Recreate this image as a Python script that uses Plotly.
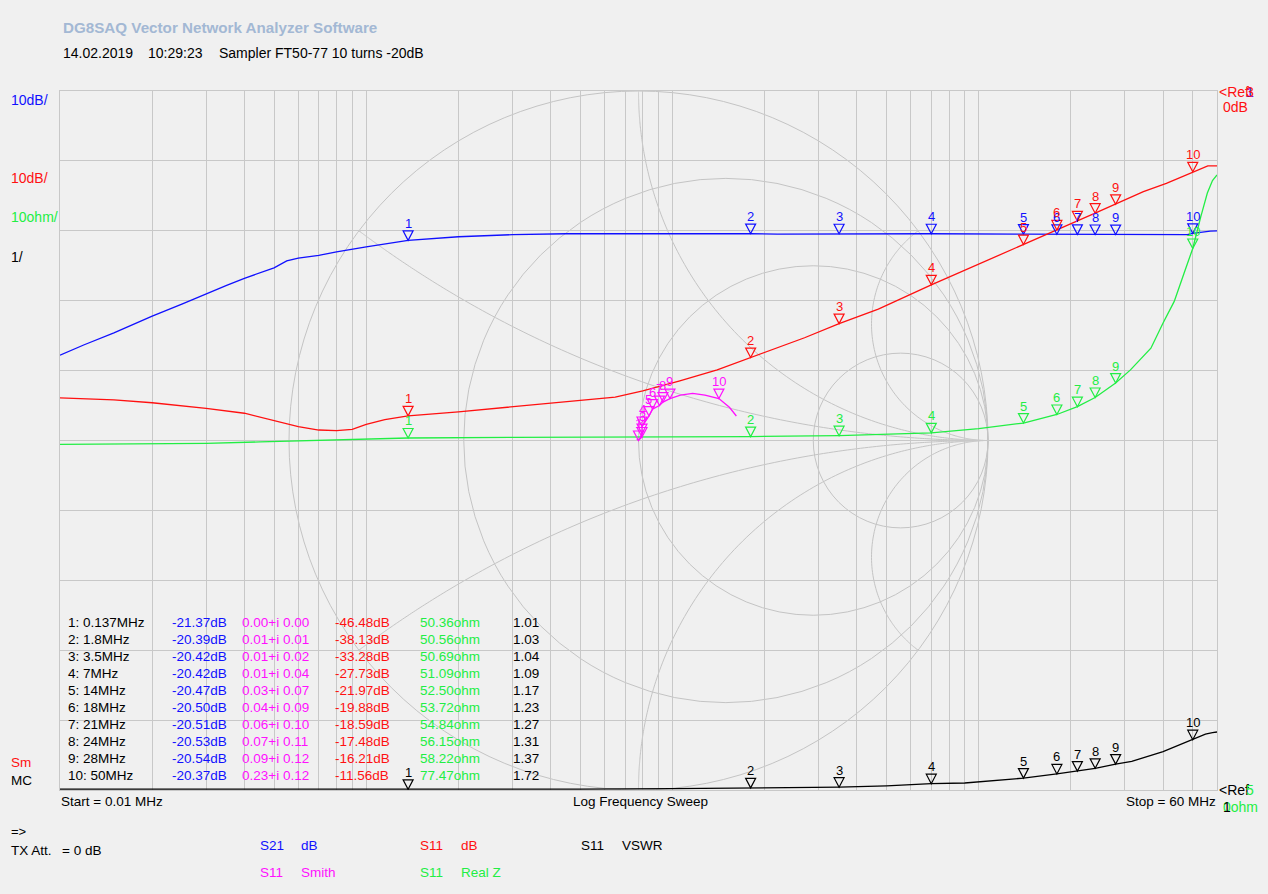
import numpy as np
import plotly.graph_objects as go

# ---------------- sweep data (frequency in MHz) ----------------
s21_freq = [0.01, 0.012, 0.015, 0.02, 0.025, 0.03, 0.035, 0.04, 0.045, 0.05, 0.055,
            0.06, 0.07, 0.08, 0.1, 0.137, 0.2, 0.3, 0.45, 0.7, 1.0, 1.8, 2.2, 3.5,
            7, 14, 18, 21, 24, 28, 35, 42, 48, 50, 53, 57, 60]
s21_db = [-37.8, -36.3, -34.6, -32.2, -30.5, -29.0, -27.8, -26.8, -26.0, -25.3, -24.3,
          -23.9, -23.5, -23.0, -22.3, -21.37, -20.85, -20.55, -20.42, -20.40, -20.38, -20.39, -20.48, -20.42,
          -20.42, -20.47, -20.50, -20.51, -20.53, -20.54, -20.55, -20.55, -20.55, -20.37, -20.2, -20.05, -20.0]

s11_freq = [0.01, 0.015, 0.02, 0.03, 0.04, 0.05, 0.06, 0.07, 0.08, 0.09, 0.1, 0.115, 0.137,
            0.2, 0.35, 0.5, 0.65, 0.8, 1.05, 1.4, 1.8, 2.7, 3.5, 4.7, 7, 10, 11.7, 14,
            18, 21, 24, 28, 34.5, 41, 50, 54, 56, 60]
s11_db = [-43.9, -44.2, -44.6, -45.4, -46.1, -47.1, -48.0, -48.5, -48.6, -48.4, -47.7, -47.0, -46.48,
          -45.9, -44.9, -44.3, -43.8, -42.9, -41.5, -39.9, -38.13, -35.3, -33.28, -31.2, -27.73, -24.8, -23.4, -21.97,
          -19.88, -18.59, -17.48, -16.21, -14.4, -13.2, -11.56, -10.9, -10.7, -10.7]

realz_freq = [0.01, 0.03, 0.045, 0.07, 0.137, 0.3, 1.0, 1.8, 3.5, 7, 10, 14, 18, 21, 24, 28,
              31.3, 36.5, 40, 43.5, 46.8, 50, 53.1, 55.8, 58, 60]
realz_ohm = [49.45, 49.6, 49.8, 50.0, 50.36, 50.45, 50.5, 50.56, 50.69, 51.09, 51.7, 52.50, 53.72, 54.84, 56.15, 58.22,
             60.1, 63.2, 66.8, 69.9, 73.9, 77.47, 82.0, 85.4, 87.2, 88.0]

vswr_freq = [0.01, 0.045, 0.05, 0.12, 0.137, 0.5, 1.0, 1.8, 2.5, 3.5, 5, 7, 9, 11, 14, 18, 21, 24, 28,
             31.6, 40, 50, 55, 58, 60]
vswr_val = [1.012, 1.012, 1.006, 1.006, 1.01, 1.012, 1.02, 1.03, 1.03, 1.04, 1.06, 1.09, 1.10, 1.13, 1.17, 1.23,
            1.27, 1.31, 1.37, 1.41, 1.55, 1.72, 1.80, 1.82, 1.83]

smith_freq = [0.01, 0.137, 1.8, 3.5, 7, 14, 18, 21, 24, 28, 33, 38, 44, 50, 55, 60]
smith_re = [-0.005, 0.00, 0.01, 0.01, 0.01, 0.03, 0.04, 0.06, 0.07, 0.09, 0.12, 0.155, 0.19, 0.23, 0.26, 0.28]
smith_im = [0.004, 0.00, 0.01, 0.02, 0.04, 0.07, 0.09, 0.10, 0.11, 0.12, 0.13, 0.135, 0.13, 0.12, 0.095, 0.07]

# ---------------- marker readouts ----------------
marker_freq = [0.137, 1.8, 3.5, 7, 14, 18, 21, 24, 28, 50]
marker_s21 = [-21.37, -20.39, -20.42, -20.42, -20.47, -20.50, -20.51, -20.53, -20.54, -20.37]
marker_re = [0.00, 0.01, 0.01, 0.01, 0.03, 0.04, 0.06, 0.07, 0.09, 0.23]
marker_im = [0.00, 0.01, 0.02, 0.04, 0.07, 0.09, 0.10, 0.11, 0.12, 0.12]
marker_s11 = [-46.48, -38.13, -33.28, -27.73, -21.97, -19.88, -18.59, -17.48, -16.21, -11.56]
marker_realz = [50.36, 50.56, 50.69, 51.09, 52.50, 53.72, 54.84, 56.15, 58.22, 77.47]
marker_vswr = [1.01, 1.03, 1.04, 1.09, 1.17, 1.23, 1.27, 1.31, 1.37, 1.72]

F_START, F_STOP = 0.01, 60.0

# ---------------- page geometry ----------------
W, H = 1268, 894
L, R, T, B = 60, 1217, 91, 790
BG = "#f0f0f0"
GRID = "#c8c8c8"
SMITH = "#c4c4c4"
BLUE, RED, GREEN, MAG, BLK = "#1010ff", "#ff1010", "#22ee44", "#ff10ff", "#000000"
FONT = "Liberation Sans"

fig = go.Figure()

# trace curves
fig.add_trace(go.Scatter(x=s21_freq, y=s21_db, mode="lines", line=dict(color=BLUE, width=1.3),
                         xaxis="x", yaxis="y", hoverinfo="skip"))
fig.add_trace(go.Scatter(x=s11_freq, y=s11_db, mode="lines", line=dict(color=RED, width=1.3),
                         xaxis="x", yaxis="y", hoverinfo="skip"))
fig.add_trace(go.Scatter(x=realz_freq, y=realz_ohm, mode="lines", line=dict(color=GREEN, width=1.3),
                         xaxis="x", yaxis="y3", hoverinfo="skip"))
fig.add_trace(go.Scatter(x=vswr_freq, y=vswr_val, mode="lines", line=dict(color=BLK, width=1.3),
                         xaxis="x", yaxis="y4", hoverinfo="skip"))
fig.add_trace(go.Scatter(x=smith_re, y=smith_im, mode="lines", line=dict(color=MAG, width=1.3),
                         xaxis="x2", yaxis="y2", hoverinfo="skip"))

shapes = []

# Smith chart grid: unit circle, constant-resistance circles and reactance arcs
shapes.append(dict(type="circle", xref="x2", yref="y2", x0=-1, x1=1, y0=-1, y1=1,
                   line=dict(color=SMITH, width=1), layer="below"))
for r in (1 / 3, 1, 3):
    c, rad = r / (1 + r), 1 / (1 + r)
    shapes.append(dict(type="circle", xref="x2", yref="y2", x0=c - rad, x1=c + rad, y0=-rad, y1=rad,
                       line=dict(color=SMITH, width=1), layer="below"))
rr = np.concatenate([[0.0], np.logspace(-3, 4, 400)])
for xr in (1 / 3, 1, 3, -1 / 3, -1, -3):
    g = (rr + 1j * xr - 1) / (rr + 1j * xr + 1)
    path = "M " + " L ".join(f"{p.real:.5f},{p.imag:.5f}" for p in g)
    shapes.append(dict(type="path", xref="x2", yref="y2", path=path,
                       line=dict(color=SMITH, width=1), layer="below"))

# marker triangles (tip on the trace) and their numbers
TRI = "M-5,9.5 L5,9.5 L0,0 Z"
annotations = []


def add_marker(xref, yref, xa, ya, xlab, color, label):
    shapes.append(dict(type="path", xref=xref, yref=yref, xsizemode="pixel", ysizemode="pixel",
                       xanchor=xa, yanchor=ya, path=TRI, line=dict(color=color, width=1.2),
                       fillcolor="rgba(0,0,0,0)", layer="above"))
    annotations.append(dict(xref=xref, yref=yref, x=xlab, y=ya, text=label, showarrow=False,
                            yshift=17, xanchor="center", yanchor="middle", borderpad=0,
                            font=dict(family=FONT, size=13, color=color)))


for i, f in enumerate(marker_freq):
    lab = str(i + 1)
    lf = float(np.log10(f))
    add_marker("x", "y", f, marker_s21[i], lf, BLUE, lab)
    add_marker("x", "y", f, marker_s11[i], lf, RED, lab)
    add_marker("x", "y3", f, marker_realz[i], lf, GREEN, lab)
    add_marker("x", "y4", f, marker_vswr[i], lf, BLK, lab)
    add_marker("x2", "y2", marker_re[i], marker_im[i], marker_re[i], MAG, lab)


def px_x(px):
    return (px - L) / (R - L)


def px_y(py):
    return (B - py) / (B - T)


def text(px, py, s, color=BLK, size=13.5, anchor="left", bold=False):
    if bold:
        s = f"<b>{s}</b>"
    annotations.append(dict(xref="paper", yref="paper", x=px_x(px), y=px_y(py), text=s,
                            showarrow=False, xanchor=anchor, yanchor="middle", borderpad=0,
                            font=dict(family=FONT, size=size, color=color)))


# header
text(62, 27, "DG8SAQ Vector Network Analyzer Software", "#a3b8d4", 15.2, bold=True)
text(62, 53, "14.02.2019", size=14)
text(147, 53, "10:29:23", size=14)
text(218, 53, "Sampler FT50-77 10 turns -20dB", size=14)

# scale labels on the left
text(10, 100, "10dB/", BLUE, 14)
text(10, 178, "10dB/", RED, 14)
text(10, 217, "10ohm/", GREEN, 14)
text(10, 257, "1/", BLK, 14)
text(10, 762, "Sm", RED, 13.5)
text(10, 780, "MC", BLK, 13.5)

# reference labels on the right
text(1218, 92, "&lt;Ref", RED, 14)
text(1245, 92, "1", BLUE, 14)
text(1245, 92, "3", RED, 14)
text(1222, 107, "0dB", RED, 14)
text(1218, 790, "&lt;Ref", BLK, 14)
text(1245, 790, "5", GREEN, 14)
text(1222, 807, "0ohm", GREEN, 14)
text(1222, 807, "1", BLK, 14)

# sweep info
text(60, 802, "Start = 0.01 MHz", BLK, 13.5)
text(640, 802, "Log Frequency Sweep", BLK, 13.5, anchor="center")
text(1217, 802, "Stop = 60 MHz", BLK, 13.5, anchor="right")
text(10, 831, "=&gt;", BLK, 13)
text(10, 850, "TX Att.", BLK, 13.5)
text(61, 850, "= 0 dB", BLK, 13.5)

# trace legend
text(259, 845, "S21", BLUE, 13.5)
text(300, 845, "dB", BLUE, 13.5)
text(419, 845, "S11", RED, 13.5)
text(460, 845, "dB", RED, 13.5)
text(580, 845, "S11", BLK, 13.5)
text(621, 845, "VSWR", BLK, 13.5)
text(259, 872, "S11", MAG, 13.5)
text(300, 872, "Smith", MAG, 13.5)
text(419, 872, "S11", GREEN, 13.5)
text(460, 872, "Real Z", GREEN, 13.5)

# marker readout table
for i, f in enumerate(marker_freq):
    y = 622 + 17 * i
    text(67, y, f"{i + 1}: {f:g}MHz", BLK, 13.5)
    text(171, y, f"{marker_s21[i]:.2f}dB", BLUE, 13.5)
    text(241, y, f"{marker_re[i]:.2f}+i {marker_im[i]:.2f}", MAG, 13.5)
    text(334, y, f"{marker_s11[i]:.2f}dB", RED, 13.5)
    text(419, y, f"{marker_realz[i]:.2f}ohm", GREEN, 13.5)
    text(512, y, f"{marker_vswr[i]:.2f}", BLK, 13.5)

# log grid positions
grid_f = [d * 10.0 ** e for e in (-2, -1, 0, 1) for d in range(1, 10)
          if F_START < d * 10.0 ** e < F_STOP]

half_w = (R - L) / (B - T)   # Smith x half-range so the chart stays circular

axis_common = dict(showticklabels=False, ticks="", zeroline=False, fixedrange=True)
fig.update_layout(
    width=W, height=H,
    margin=dict(l=L, r=W - R, t=T, b=H - B, pad=0),
    paper_bgcolor=BG, plot_bgcolor=BG,
    showlegend=False,
    xaxis=dict(type="log", range=[np.log10(F_START), np.log10(F_STOP)], tickvals=grid_f,
               showgrid=True, gridcolor=GRID, gridwidth=1.3, showline=True, mirror=True,
               linecolor=GRID, linewidth=1.3, **axis_common),
    yaxis=dict(range=[-100, 0], tick0=0, dtick=10, showgrid=True, gridcolor=GRID, gridwidth=1.3,
               showline=True, mirror=True, linecolor=GRID, linewidth=1.3, **axis_common),
    yaxis3=dict(range=[0, 100], overlaying="y", visible=False, fixedrange=True),
    yaxis4=dict(range=[1, 11], overlaying="y", visible=False, fixedrange=True),
    xaxis2=dict(range=[-half_w, half_w], overlaying="x", anchor="y2", visible=False, fixedrange=True),
    yaxis2=dict(range=[-1, 1], overlaying="y", anchor="x2", visible=False, fixedrange=True),
    shapes=shapes,
    annotations=annotations,
)

fig.write_html("out.html")
